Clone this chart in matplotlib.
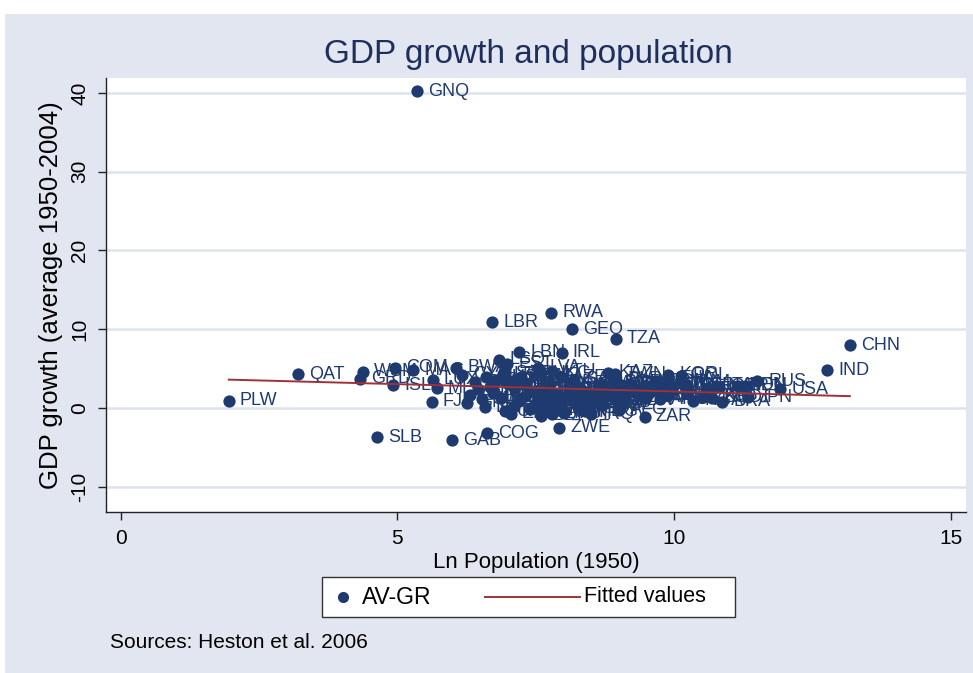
import matplotlib
matplotlib.use("Agg")
import matplotlib.pyplot as plt
from matplotlib.patches import Rectangle
from matplotlib.lines import Line2D

plt.rcParams['font.family'] = ['Liberation Sans', 'DejaVu Sans']

# ---- data ----
codes = ["PLW","QAT","GRD","WSM","ISL","COM","MAC","FJI","LUX","MLT","SLB","GAB","COG","GNQ",
         "BWA","CYP","LBR","RWA","GEO","TZA","LBN","IRL","LSO","EST","LVA","LTU","KAZ","ZWE","ZAR",
         "CHN","IND","RUS","USA","BRA","JPN",
         "GMB","GNB","SUR","BHR","SWZ","DJI","MUS","TTO","NAM","BTN","CAF","MRT","PAN","MNG","ARM",
         "LAO","TGO","ALB","NZL","SLV","NIC","LBY","MKD","KGZ","JOR","SGP","HKG","PRY","SLE","HND",
         "URY","ISR","BEN","TCD","TJK","MDA","NOR","DNK","FIN","SVK","HRV","BIH","BDI","ERI","SOM",
         "DOM","BOL","HTI","PRT","GRC","BEL","CHE","AUT","SWE","HUN","CZE","BGR","SRB","BLR","AZE",
         "CUB","GTM","ECU","SEN","ZMB","MWI","NER","BFA","MLI","YEM","SYR","TUN","KHM","LKA","PRI",
         "CMR","CIV","AGO","MOZ","MDG","UGA","GHA","KEN","SDN","MAR","DZA","NPL","AFG","IRQ","SAU",
         "VEN","CHL","PER","MYS","AUS","NLD","PRK","TWN","ROM","CAN","COL","ZAF","MMR","ARG","ETH",
         "IRN","UZB","THA","PHL","EGY","TUR","KOR","VNM","POL","ESP","MEX","NGA","UKR","PAK","FRA",
         "BGD","ITA","GBR","DEU","IDN"]
ln_pop = [1.95,3.20,4.32,4.38,4.92,4.95,5.28,5.62,5.64,5.71,4.63,5.98,6.62,5.35,
          6.06,6.17,6.71,7.78,8.16,8.95,7.20,7.97,6.83,6.98,7.54,7.80,8.80,7.92,9.47,
          13.18,12.77,11.50,11.92,10.87,11.33,
          6.31,6.25,6.40,6.45,6.52,6.58,6.60,6.68,6.72,6.78,6.95,6.88,6.75,6.98,7.24,
          7.40,7.10,7.15,7.55,7.60,7.05,6.90,7.10,7.30,7.28,6.93,7.60,7.20,7.60,7.20,
          7.72,7.15,7.50,7.80,7.40,7.80,8.10,8.30,8.30,8.10,8.20,7.90,7.60,7.05,7.75,
          7.73,7.98,8.02,9.05,8.95,9.07,8.47,8.84,8.86,9.13,9.10,8.90,8.80,8.96,7.95,
          8.70,8.00,8.10,7.90,7.80,7.95,7.90,8.30,8.20,8.30,8.10,8.17,8.40,8.95,7.70,
          8.40,7.90,8.30,8.70,8.40,8.55,8.50,8.70,9.10,9.10,9.10,9.10,9.00,8.50,8.20,
          8.50,8.70,8.90,8.70,9.00,9.22,9.18,8.93,9.68,9.55,9.43,9.50,9.74,9.74,9.80,
          9.70,8.75,9.90,9.90,9.95,9.95,9.90,10.10,10.13,10.24,10.24,10.35,10.50,10.60,10.64,
          10.69,10.76,10.82,11.15,11.29]
growth = [0.9,4.3,3.7,4.6,2.9,5.1,4.8,0.8,3.6,2.5,-3.7,-4.1,-3.2,40.2,
          5.1,4.2,10.9,12.1,10.0,8.8,7.1,7.0,6.1,5.6,5.1,4.7,4.5,-2.5,-1.1,
          8.0,4.8,3.4,2.4,0.8,1.4,
          1.6,0.7,3.3,2.4,1.1,0.1,3.9,2.7,1.9,3.5,-0.4,1.3,3.0,3.2,4.0,
          2.2,0.3,3.5,1.9,1.0,-0.3,4.3,2.7,1.5,3.0,4.4,4.4,0.9,0.0,1.2,
          1.2,3.6,0.6,-0.2,-0.1,0.9,2.7,2.0,2.5,2.3,2.9,1.6,-1.0,-0.7,-0.5,
          2.3,0.8,-0.6,2.9,2.8,2.2,1.8,2.4,2.0,2.6,2.1,3.3,1.9,3.6,3.9,
          0.7,1.3,1.4,0.4,-0.7,0.3,-0.3,0.7,0.9,1.9,2.9,2.3,1.6,2.6,3.3,
          0.8,0.2,0.0,0.4,-0.4,1.0,0.6,1.3,0.9,1.8,1.3,1.5,-0.2,-0.8,3.6,
          0.5,1.9,1.4,3.1,1.9,2.2,3.0,4.3,3.4,1.9,1.6,1.3,2.8,1.1,1.7,
          2.3,2.5,3.8,1.6,2.8,2.4,4.2,3.3,4.1,2.9,1.9,0.9,1.4,2.3,2.4,
          1.3,2.8,2.7,2.8,2.8]

fit_intercept = 3.97
fit_slope = -0.187
fit_x = [1.95, 13.18]

xticks = [0, 5, 10, 15]
yticks = [-10, 0, 10, 20, 30, 40]

# ---- styling ----
W, H = 973, 673
navy = "#1f3a6e"
fitcol = "#9e3139"
bg = "#e1e6f0"
grid = "#dde3ed"

fig = plt.figure(figsize=(W/100, H/100), dpi=100)
fig.patch.set_facecolor("white")
fig.add_artist(Rectangle((5/W, 0), 1, 1 - 14/H, transform=fig.transFigure,
                         facecolor=bg, edgecolor="none", zorder=-10))

def fx(px): return px / W
def fy(py): return 1 - py / H

ax = fig.add_axes([fx(106), fy(512), (966-106)/W, (512-78)/H])
ax.set_facecolor("white")
ax.set_xlim(-0.27, 15.28)
ax.set_ylim(-13.2, 41.9)
for s in ["top", "right"]:
    ax.spines[s].set_visible(False)
for s in ["left", "bottom"]:
    ax.spines[s].set_color("#222222")
    ax.spines[s].set_linewidth(1.0)

ax.set_yticks(yticks)
ax.set_xticks(xticks)
ax.set_yticklabels([str(v) for v in yticks], rotation=90, va="center", fontsize=15)
ax.set_xticklabels([str(v) for v in xticks], fontsize=15)
ax.tick_params(axis="both", direction="out", length=6, width=1, color="#222222", pad=6)
ax.yaxis.grid(True, color=grid, linewidth=1.8)
ax.set_axisbelow(True)

ax.scatter(ln_pop, growth, s=78, color=navy, zorder=3, linewidths=0)
for c, x, y in zip(codes, ln_pop, growth):
    ax.annotate(c, (x, y), xytext=(8, 0), textcoords="offset points",
                va="center", ha="left", fontsize=13, color=navy, zorder=4)

fx_line = fit_x
fy_line = [fit_intercept + fit_slope * v for v in fit_x]
ax.plot(fx_line, fy_line, color=fitcol, linewidth=1.4, zorder=5)

ax.set_xlabel("Ln Population (1950)", fontsize=16, labelpad=3)
ax.set_ylabel("GDP growth (average 1950-2004)", fontsize=18.5, labelpad=5)

fig.text(fx(528), fy(55), "GDP growth and population", fontsize=24,
         color="#1e2f5e", ha="center", va="center")

# legend box
fig.add_artist(Rectangle((fx(322), fy(617)), (735-322)/W, (617-577)/H,
                         transform=fig.transFigure, facecolor="white",
                         edgecolor="#333333", linewidth=1.0))
fig.add_artist(Line2D([fx(343)], [fy(597)], marker="o", markersize=7,
                      color=navy, transform=fig.transFigure))
fig.text(fx(362), fy(597), "AV-GR", fontsize=16.5, va="center", ha="left")
fig.add_artist(Line2D([fx(485), fx(580)], [fy(597), fy(597)], color=fitcol,
                      linewidth=1.4, transform=fig.transFigure))
fig.text(fx(584), fy(597), "Fitted values", fontsize=15.5, va="center", ha="left")

fig.text(fx(110), fy(643), "Sources: Heston et al. 2006", fontsize=15,
         va="center", ha="left")

fig.savefig("out.png", dpi=100, facecolor=fig.get_facecolor())
